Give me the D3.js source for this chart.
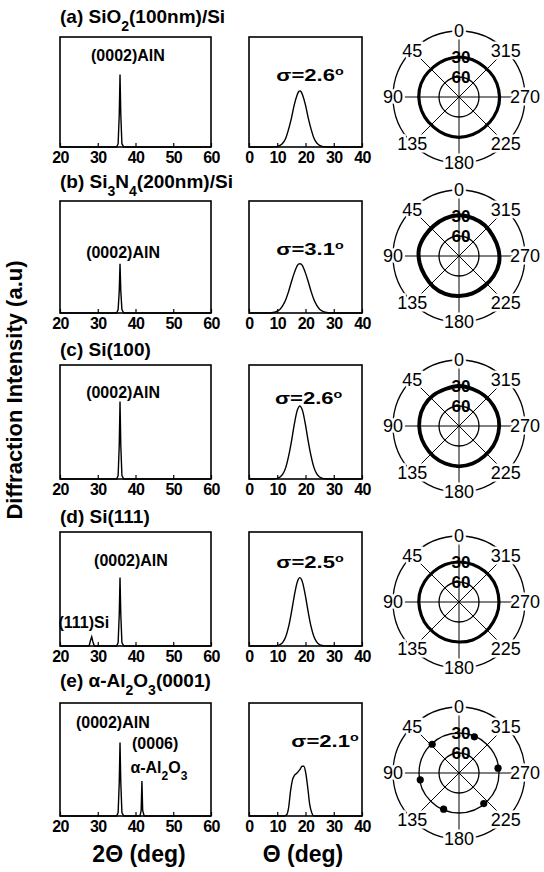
<!DOCTYPE html>
<html>
<head>
<meta charset="utf-8">
<script src="https://cdn.jsdelivr.net/npm/d3@7"></script>
<style>
body { margin: 0; background: #fff; }
svg { font-family: "Liberation Sans", Arial, sans-serif; }
.box { fill: none; stroke: #000; stroke-width: 1.6; }
.trace { fill: none; stroke: #000; stroke-width: 1.4; }
.grid { fill: none; stroke: #000; stroke-width: 1.3; }
.spoke { stroke: #000; stroke-width: 1; }
</style>
</head>
<body>
<div id="svg"></div>
<script>
// tick labels
var xrdTicks = [20, 30, 40, 50, 60];
var rockTicks = [0, 10, 20, 30, 40];
var poleAz = [0, 45, 90, 135, 180, 225, 270, 315];
var chiLabels = [30, 60];

// substrate titles, pieces of [text, isSubscript]
var titles = [
  [["(a) SiO"], ["2", 1], ["(100nm)/Si"]],
  [["(b) Si"], ["3", 1], ["N"], ["4", 1], ["(200nm)/Si"]],
  [["(c) Si(100)"]],
  [["(d) Si(111)"]],
  [["(e) \u03b1-Al"], ["2", 1], ["O"], ["3", 1], ["(0001)"]]
];

// rocking curve widths
var sigmas = ["2.6", "3.1", "2.6", "2.5", "2.1"];

// 2theta scans [2theta, relative intensity]
var xrdA = [[20,0],[35.0,0],[35.4,0.03],[35.7,0.3],[35.9,0.66],[36.1,0.3],[36.4,0.03],[36.9,0],[60,0]];
var xrdB = [[20,0],[35.0,0],[35.4,0.03],[35.7,0.2],[35.9,0.44],[36.1,0.2],[36.4,0.03],[36.9,0],[60,0]];
var xrdC = [[20,0],[35.0,0],[35.4,0.03],[35.7,0.3],[35.9,0.68],[36.1,0.3],[36.4,0.03],[36.9,0],[60,0]];
var xrdD = [[20,0],[27.7,0],[28.1,0.05],[28.4,0.08],[28.7,0.04],[29.1,0],[35.0,0],[35.4,0.03],[35.7,0.28],[35.9,0.6],[36.1,0.28],[36.4,0.03],[36.9,0],[60,0]];
var xrdE = [[20,0],[35.0,0],[35.4,0.03],[35.7,0.3],[35.9,0.65],[36.1,0.3],[36.4,0.03],[36.9,0],[41.2,0],[41.5,0.05],[41.7,0.31],[41.9,0.05],[42.3,0],[60,0]];
var xrdData = [xrdA, xrdB, xrdC, xrdD, xrdE];

// rocking curves [theta, relative intensity]
var rockA = [[0,0],[8,0],[9,0.002],[10,0.005],[11,0.014],[12,0.036],[13,0.08],[14,0.16],[15,0.26],[16,0.38],[17,0.47],[17.5,0.5],[18,0.51],[18.5,0.5],[19,0.47],[20,0.38],[21,0.26],[22,0.16],[23,0.08],[24,0.036],[25,0.014],[26,0.005],[27,0.002],[28,0],[40,0]];
var rockB = [[0,0],[7,0],[8,0.002],[9,0.007],[10,0.016],[11,0.034],[12,0.068],[13,0.119],[14,0.191],[15,0.277],[16,0.356],[17,0.418],[17.5,0.437],[18,0.44],[18.5,0.437],[19,0.418],[20,0.356],[21,0.277],[22,0.191],[23,0.119],[24,0.068],[25,0.034],[26,0.016],[27,0.007],[28,0.002],[29,0],[40,0]];
var rockC = [[0,0],[8,0],[9,0.002],[10,0.006],[11,0.017],[12,0.045],[13,0.1],[14,0.198],[15,0.326],[16,0.474],[17,0.595],[17.5,0.627],[18,0.64],[18.5,0.627],[19,0.595],[20,0.474],[21,0.326],[22,0.198],[23,0.1],[24,0.045],[25,0.017],[26,0.006],[27,0.002],[28,0],[40,0]];
var rockD = [[0,0],[8,0],[9,0.001],[10,0.004],[11,0.012],[12,0.034],[13,0.081],[14,0.167],[15,0.292],[16,0.436],[17,0.554],[17.5,0.588],[18,0.6],[18.5,0.588],[19,0.554],[20,0.436],[21,0.292],[22,0.167],[23,0.081],[24,0.034],[25,0.012],[26,0.004],[27,0.001],[28,0],[40,0]];
var rockE = [[0,0],[12.5,0],[13.3,0.01],[14,0.07],[14.7,0.22],[15.4,0.32],[16.1,0.36],[17,0.38],[18,0.41],[18.8,0.44],[19.4,0.44],[20.1,0.38],[20.8,0.25],[21.5,0.1],[22.2,0.03],[23,0],[40,0]];
var rockData = [rockA, rockB, rockC, rockD, rockE];

// pole figures: tilt (chi) of the ring vs azimuth
var ringAz = [0,20,40,60,80,100,120,140,160,180,200,220,240,260,280,300,320,340];
var ringA = [30,30.5,31,30,29.5,30,30.5,31,30,29.5,30,30.5,30,29,29.5,30,31,30.5];
var ringB = [29,30,31,30.5,29,30,31,30,29.5,30,30.5,31,30,29,30,31,30,29.5];
var ringC = [30,31,30,29.5,30,30.5,31,30.5,30,29.5,30,31,30.5,30,29.5,30,30.5,31];
var ringD = [30,30,30.5,30,29.5,30,30,30.5,30,30,29.5,30,30.5,30,30,29.5,30,30];
var ringData = [ringA, ringB, ringC, ringD, null];
// six-fold spots for sapphire
var spotAz = [337, 43, 100, 157, 219, 277];
var spotChi = [31, 31, 31, 31, 31, 31];

// layout
var width = 544, height = 872;
var rowTop = [37, 201, 365, 532, 703];
var rowH = [110, 112, 114, 114, 113];
var titleY = [23, 188, 356, 523, 687];
var poleCy = [97, 256, 426, 602, 773];
var poleCx = 459, outerR = 66, spokeR = 59;

// label anchors, in data units
var aln = [[38.0,0.78],[36.7,0.49],[36.7,0.71],[38.8,0.70],[34.0,0.78]];
var sigPos = [[21.6,0.6],[21.6,0.52],[21.1,0.66],[21.6,0.68],[26.9,0.61]];

var svg = d3.select("#svg").append("svg")
    .attr("width", width)
    .attr("height", height);

var r = d3.scaleLinear().domain([90, 0]).range([0, 60]);

var line = function(x, y) {
  return d3.line().x(function(d) { return x(d[0]); }).y(function(d) { return y(d[1]); });
};

function drawAxis(g, x, y0, ticks) {
  var ax = g.append("g")
      .attr("transform", "translate(0," + y0 + ")")
      .call(d3.axisBottom(x).tickValues(ticks).tickSizeInner(-4).tickSizeOuter(0).tickPadding(5));
  ax.select(".domain").remove();
  ax.selectAll("line").attr("stroke-width", 1.2);
  ax.selectAll("text")
      .attr("font-family", "Liberation Sans, Arial, sans-serif")
      .attr("font-size", 16)
      .attr("letter-spacing", -0.6)
      .attr("font-weight", "bold");
}

function label(g, txt, x, y, anchor) {
  var t = g.append("text")
      .attr("x", x).attr("y", y)
      .attr("text-anchor", anchor || "middle")
      .attr("font-size", 16)
      .attr("font-weight", "bold");
  txt.forEach(function(p) {
    var s = t.append("tspan").text(p[0]);
    if (p[1]) s.attr("baseline-shift", "sub").attr("font-size", 12);
  });
  return t;
}

titles.forEach(function(tt, i) {
  var top = rowTop[i], bot = rowTop[i] + rowH[i];
  var g = svg.append("g");

  // title
  var t = g.append("text")
      .attr("x", 60).attr("y", titleY[i])
      .attr("font-size", 19)
      .attr("font-weight", "bold");
  tt.forEach(function(p) {
    var s = t.append("tspan").text(p[0]);
    if (p[1]) s.attr("baseline-shift", "sub").attr("font-size", 14);
  });

  // 2theta scan
  var x1 = d3.scaleLinear().domain([20, 60]).range([60, 211]);
  var y1 = d3.scaleLinear().domain([0, 1]).range([bot, top]);
  g.append("path").attr("class", "trace").attr("d", line(x1, y1)(xrdData[i]));
  g.append("rect").attr("class", "box")
      .attr("x", x1(20)).attr("y", top)
      .attr("width", x1(60) - x1(20)).attr("height", rowH[i]);
  drawAxis(g, x1, bot, xrdTicks);
  label(g, [["(0002)AlN"]], x1(aln[i][0]), y1(aln[i][1]));
  if (i === 3) label(g, [["(111)Si"]], x1(19.6), y1(0.16), "start");
  if (i === 4) {
    label(g, [["(0006)"]], x1(45.2), y1(0.59));
    label(g, [["\u03b1-Al"], ["2", 1], ["O"], ["3", 1]], x1(46.2), y1(0.38));
  }

  // rocking curve
  var x2 = d3.scaleLinear().domain([0, 40]).range([249, 362]);
  var y2 = d3.scaleLinear().domain([0, 1]).range([bot, top]);
  g.append("path").attr("class", "trace")
      .attr("d", line(x2, y2).curve(d3.curveMonotoneX)(rockData[i]));
  g.append("rect").attr("class", "box")
      .attr("x", x2(0)).attr("y", top)
      .attr("width", x2(40) - x2(0)).attr("height", rowH[i]);
  drawAxis(g, x2, bot, rockTicks);
  var st = g.append("text")
      .attr("transform", "translate(" + x2(sigPos[i][0]) + "," + y2(sigPos[i][1]) + ") scale(1.3,1)")
      .attr("text-anchor", "middle")
      .attr("font-size", 17)
      .attr("font-weight", "bold");
  st.append("tspan").text("\u03c3=" + sigmas[i]);
  st.append("tspan").attr("baseline-shift", "super").attr("font-size", 11).text("o");

  // pole figure
  var p = g.append("g").attr("transform", "translate(" + poleCx + "," + poleCy[i] + ")");
  p.append("circle").attr("class", "grid").attr("r", outerR);
  p.selectAll("circle.chi").data(chiLabels).enter().append("circle")
      .attr("class", "grid chi")
      .attr("r", function(d) { return r(d); });
  p.selectAll("line").data([0, 45, 90, 135]).enter().append("line")
      .attr("class", "spoke")
      .attr("x1", function(d) { return -spokeR * Math.sin(d * Math.PI / 180); })
      .attr("y1", function(d) { return -spokeR * Math.cos(d * Math.PI / 180); })
      .attr("x2", function(d) { return spokeR * Math.sin(d * Math.PI / 180); })
      .attr("y2", function(d) { return spokeR * Math.cos(d * Math.PI / 180); });

  if (ringData[i]) {
    var pts = ringAz.map(function(a, k) { return [a, ringData[i][k]]; });
    p.append("path")
        .attr("fill", "none").attr("stroke", "#000")
        .attr("stroke-width", [3.2, 4, 3.8, 3.2][i])
        .attr("d", d3.lineRadial()
            .angle(function(d) { return -d[0] * Math.PI / 180; })
            .radius(function(d) { return r(d[1]); })
            .curve(d3.curveCardinalClosed)(pts));
  } else {
    p.selectAll("circle.spot").data(spotAz).enter().append("circle")
        .attr("class", "spot")
        .attr("r", 3.6)
        .attr("cx", function(d, k) { return -r(spotChi[k]) * Math.sin(d * Math.PI / 180); })
        .attr("cy", function(d, k) { return -r(spotChi[k]) * Math.cos(d * Math.PI / 180); });
  }

  p.selectAll("text.chi").data(chiLabels).enter().append("text")
      .attr("class", "chi")
      .attr("x", 2)
      .attr("y", function(d) { return -r(d) + 6; })
      .attr("text-anchor", "middle")
      .attr("font-size", 17)
      .attr("font-weight", "bold")
      .text(function(d) { return d; });

  p.selectAll("text.az").data(poleAz).enter().append("text")
      .attr("class", "az")
      .attr("x", function(d) { return -outerR * Math.sin(d * Math.PI / 180); })
      .attr("y", function(d) { return -outerR * Math.cos(d * Math.PI / 180); })
      .attr("dy", "0.36em")
      .attr("text-anchor", "middle")
      .attr("font-size", 18)
      .attr("stroke", "#fff").attr("stroke-width", 5)
      .attr("paint-order", "stroke")
      .text(function(d) { return d; });
});

// axis titles
svg.append("text")
    .attr("transform", "translate(22,390) rotate(-90)")
    .attr("text-anchor", "middle")
    .attr("font-size", 22)
    .attr("font-weight", "bold")
    .text("Diffraction Intensity (a.u)");

svg.append("text")
    .attr("x", 139).attr("y", 862)
    .attr("text-anchor", "middle")
    .attr("font-size", 23)
    .attr("font-weight", "bold")
    .text("2\u0398 (deg)");

svg.append("text")
    .attr("x", 303).attr("y", 862)
    .attr("text-anchor", "middle")
    .attr("font-size", 23)
    .attr("font-weight", "bold")
    .text("\u0398 (deg)");
</script>
</body>
</html>
